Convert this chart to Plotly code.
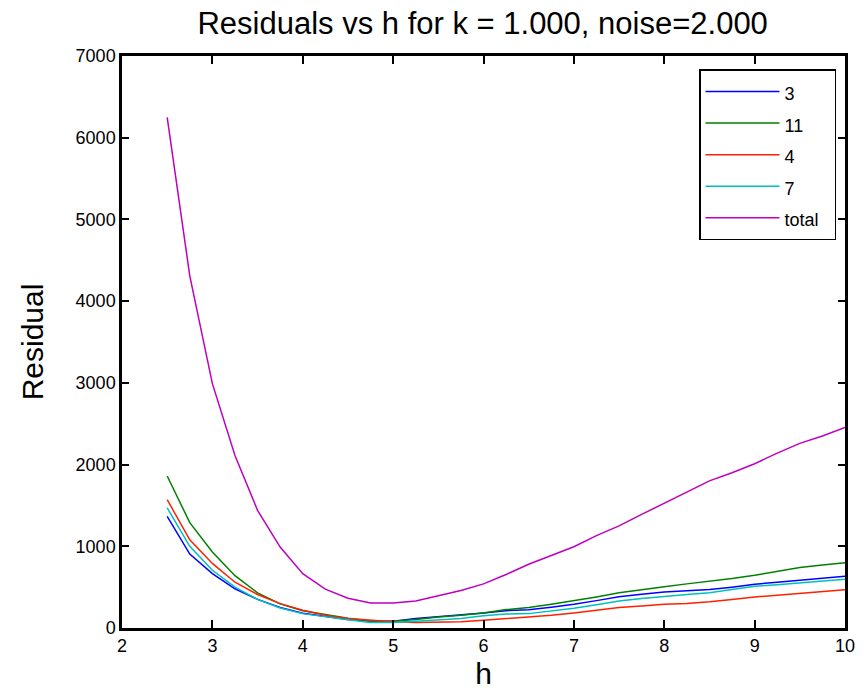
import plotly.graph_objects as go

h = [2.5, 2.75, 3.0, 3.25, 3.5, 3.75, 4.0, 4.25, 4.5, 4.75, 5.0, 5.25, 5.5, 5.75, 6.0,
     6.25, 6.5, 6.75, 7.0, 7.25, 7.5, 7.75, 8.0, 8.25, 8.5, 8.75, 9.0, 9.25, 9.5, 9.75, 10.0]

res_3 = [1367, 905, 666, 480, 350, 250, 180, 140, 105, 82, 82, 115, 135, 155, 184,
         212, 222, 255, 290, 335, 383, 412, 441, 455, 470, 500, 535, 560, 585, 610, 633]
res_11 = [1860, 1290, 930, 640, 430, 295, 210, 160, 118, 85, 82, 103, 135, 155, 184,
          225, 250, 290, 331, 380, 430, 470, 505, 540, 570, 605, 645, 690, 740, 770, 800]
res_4 = [1570, 1080, 790, 560, 410, 298, 217, 155, 115, 94, 78, 66, 70, 78, 94,
         115, 127, 155, 184, 215, 250, 270, 290, 300, 320, 350, 380, 400, 420, 445, 469]
res_7 = [1470, 1000, 706, 500, 350, 245, 176, 135, 100, 66, 66, 82, 94, 115, 150,
         170, 176, 210, 241, 285, 330, 360, 388, 410, 432, 470, 510, 530, 553, 575, 596]
res_total = [6250, 4310, 2990, 2110, 1440, 990, 665, 475, 365, 306, 306, 330, 395, 460, 540,
             655, 780, 890, 995, 1130, 1250, 1390, 1530, 1670, 1800, 1900, 2010, 2140, 2260, 2350, 2455]

series_names = ["3", "11", "4", "7", "total"]
series_values = [res_3, res_11, res_4, res_7, res_total]
colors = ["#0000ff", "#008000", "#ff2000", "#00bfbf", "#bf00bf"]

x_ticks = [2, 3, 4, 5, 6, 7, 8, 9, 10]
y_ticks = [0, 1000, 2000, 3000, 4000, 5000, 6000, 7000]

fig = go.Figure()
for name, vals, col in zip(series_names, series_values, colors):
    fig.add_trace(go.Scatter(x=h, y=vals, mode="lines",
                             name="<span style='font-size:18px'>" + name + "&nbsp;&nbsp;</span>",
                             line=dict(color=col, width=1.5)))

font_family = "Liberation Sans, Arial, sans-serif"
axis_common = dict(showline=True, linecolor="black", linewidth=2.5, mirror="allticks",
                   ticks="inside", tickcolor="black", tickwidth=1.5,
                   showgrid=False, zeroline=False, automargin=False,
                   tickfont=dict(family=font_family, size=18, color="black"))

fig.update_layout(
    width=865, height=692,
    margin=dict(l=122, r=20, t=56, b=64),
    plot_bgcolor="white", paper_bgcolor="white",
    title=dict(text="Residuals vs h for k = 1.000, noise=2.000",
               x=0.558, xanchor="center", y=0.967, yanchor="middle",
               font=dict(family=font_family, size=31, color="black")),
    xaxis=dict(range=[2, 10], tickvals=x_ticks, ticklen=8,
               title=dict(text="h", font=dict(family=font_family, size=30, color="black"),
                          standoff=8),
               **axis_common),
    yaxis=dict(range=[0, 7000], tickvals=y_ticks, ticklen=7,
               title=dict(text="Residual", font=dict(family=font_family, size=30, color="black"),
                          standoff=24),
               **axis_common),
    legend=dict(x=0.9876, y=0.977, xanchor="right", yanchor="top",
                bordercolor="black", borderwidth=1.5, bgcolor="white",
                font=dict(family=font_family, size=22, color="black"),
                itemwidth=74, tracegroupgap=0),
    showlegend=True,
)

fig.write_html("out.html")
